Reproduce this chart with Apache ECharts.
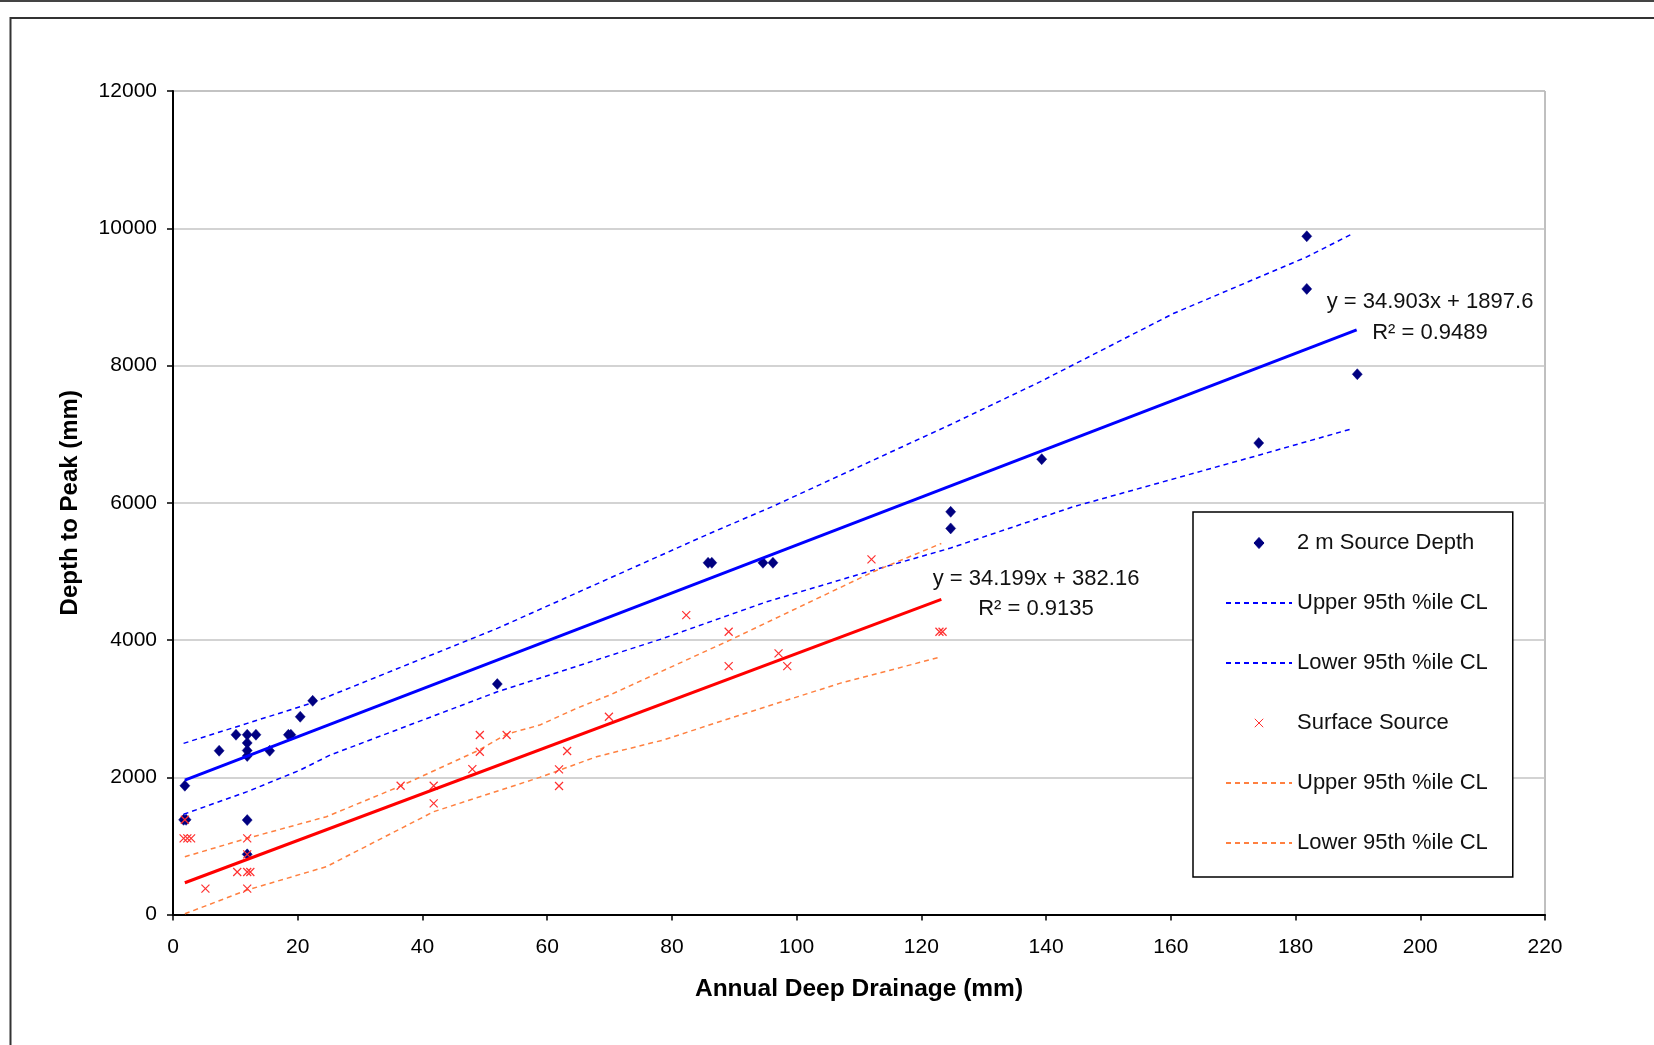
<!DOCTYPE html>
<html><head><meta charset="utf-8">
<script src="https://cdn.jsdelivr.net/npm/echarts@6/dist/echarts.min.js"></script>
<style>html,body{margin:0;padding:0;background:#fff}#c{width:1654px;height:1045px}</style>
</head><body><div id="c"></div>
<script>
// ---- data ----
const xAxisMin = 0, xAxisMax = 220, xAxisStep = 20;
const yAxisMin = 0, yAxisMax = 12000, yAxisStep = 2000;

const sourceDepth2m = [[1.9,1876],[1.7,1380],[2.1,1380],[7.4,2386],[10.1,2619],[11.9,2619],[13.3,2619],
  [11.9,2500],[11.9,2390],[11.9,2310],[15.5,2386],[18.5,2619],[18.9,2619],[20.4,2881],[22.4,3114],
  [11.9,1376],[11.9,877],[52.0,3358],[85.8,5125],[86.4,5125],[94.6,5125],[96.2,5125],[124.7,5868],
  [124.7,5626],[139.3,6635],[174.1,6870],[181.8,9883],[181.8,9116],[189.9,7873]];
const surfaceSource = [[1.9,1380],[1.7,1110],[2.3,1110],[2.9,1110],[11.9,1110],[11.9,877],[10.3,620],
  [11.9,620],[12.4,620],[5.2,376],[11.9,376],[36.5,1876],[41.8,1876],[41.8,1620],[48.0,2119],[49.2,2372],
  [49.2,2615],[53.5,2615],[61.9,2115],[61.9,1872],[63.2,2382],[69.9,2882],[82.3,4363],[89.1,4120],
  [89.1,3620],[97.1,3805],[98.5,3620],[112.0,5174],[122.9,4120],[123.4,4120]];

const blueTrend = [[1.9,1959],[189.8,8518]];
const blueUpper = [[1.7,2494],[11.9,2785],[22.4,3085],[52,4169],[86,5550],[96,5940],[124.7,7140],
  [139,7761],[160.4,8757],[181.8,9582],[189.2,9923]];
const blueLower = [[1.7,1460],[11.9,1790],[20.4,2105],[25.2,2323],[52,3245],[78.6,4023],[95.2,4557],
  [112.3,5018],[124.7,5340],[144.3,5940],[174.1,6693],[189.2,7082]];

const redTrend = [[1.9,463],[123.2,4591]];
const redUpper = [[1.9,842],[11.9,1110],[24.6,1425],[36.5,1872],[49.1,2397],[53.5,2629],[58.8,2760],
  [64.7,3004],[70,3197],[89.3,3998],[112.3,4994],[123.2,5407]];
const redLower = [[1.9,10],[11.9,357],[24.6,697],[41.8,1498],[58.8,1998],[67.9,2299],[78.6,2542],
  [90.9,2906],[106.9,3368],[123.2,3755]];

const blueEquation = ['y = 34.903x + 1897.6', 'R² = 0.9489'];
const redEquation = ['y = 34.199x + 382.16', 'R² = 0.9135'];

const legendNames = ['2 m Source Depth','Upper 95th %ile CL','Lower 95th %ile CL','Surface Source',
  'Upper 95th %ile CL (surface)','Lower 95th %ile CL (surface)'];

// ---- chart ----
const FONT = "'Liberation Sans', Arial, sans-serif";
const chart = echarts.init(document.getElementById('c'), null, {renderer:'canvas'});
// X mark with invisible padding points so the legend icon stays small
const X_PATH = 'path://M-1.5,-1.5L-1.5,-1.5M11.5,11.5L11.5,11.5M0,0L10,10M10,0L0,10';
const DIAMOND_PATH = 'path://M5,0L10,5.5L5,11L0,5.5Z';
const dashed = [5,4];
const hiddenSymbol = {opacity:0};

chart.setOption({
  backgroundColor:'#ffffff',
  animation:false,
  grid:{left:173, right:109, top:91, bottom:130.5, show:true, borderColor:'#808080', borderWidth:1, backgroundColor:'#ffffff'},
  xAxis:{type:'value', min:xAxisMin, max:xAxisMax, interval:xAxisStep,
    name:'Annual Deep Drainage (mm)', nameLocation:'middle', nameGap:62,
    nameTextStyle:{fontFamily:FONT, fontSize:24.5, fontWeight:'bold', color:'#000'},
    axisLine:{show:true, onZero:false, lineStyle:{color:'#000', width:2}},
    axisTick:{show:true, length:6, lineStyle:{color:'#000', width:1.5}},
    axisLabel:{fontFamily:FONT, fontSize:21, color:'#000', margin:22, formatter: v => String(v)},
    splitLine:{show:false}},
  yAxis:{type:'value', min:yAxisMin, max:yAxisMax, interval:yAxisStep,
    name:'Depth to Peak (mm)', nameLocation:'middle', nameGap:91,
    nameTextStyle:{fontFamily:FONT, fontSize:24, fontWeight:'bold', color:'#000'},
    axisLine:{show:true, onZero:false, lineStyle:{color:'#000', width:2}},
    axisTick:{show:true, length:6, lineStyle:{color:'#000', width:1.5}},
    axisLabel:{fontFamily:FONT, fontSize:21, color:'#000', margin:16, formatter: v => String(v)},
    splitLine:{show:true, lineStyle:{color:'#c4c4c4', width:1.5}}},
  legend:{orient:'vertical', left:1193, top:512, itemWidth:66, itemHeight:11, itemGap:38,
    padding:[20,25,23,32], borderColor:'#000', borderWidth:1.5, backgroundColor:'#fff',
    itemStyle:{borderWidth:1},
    textStyle:{fontFamily:FONT, fontSize:22, color:'#111'},
    formatter: n => n.replace(' (surface)',''),
    data: legendNames},
  series:[
    {name:legendNames[1], type:'line', data:blueUpper, symbol:'none', z:2, itemStyle:hiddenSymbol,
      lineStyle:{color:'#0000ff', width:1.5, type:dashed}},
    {name:legendNames[2], type:'line', data:blueLower, symbol:'none', z:2, itemStyle:hiddenSymbol,
      lineStyle:{color:'#0000ff', width:1.5, type:dashed}},
    {name:legendNames[4], type:'line', data:redUpper, symbol:'none', z:2, itemStyle:hiddenSymbol,
      lineStyle:{color:'#ff8040', width:1.5, type:dashed}},
    {name:legendNames[5], type:'line', data:redLower, symbol:'none', z:2, itemStyle:hiddenSymbol,
      lineStyle:{color:'#ff8040', width:1.5, type:dashed}},
    {name:legendNames[0], type:'scatter', data:sourceDepth2m, symbol:DIAMOND_PATH, symbolSize:[10,11], z:3,
      itemStyle:{color:'#000080', borderColor:'#000080', borderWidth:0.5, opacity:1}},
    {name:legendNames[3], type:'scatter', data:surfaceSource, symbol:X_PATH, symbolSize:10.4, z:4,
      itemStyle:{color:'#ff3030', borderColor:'#ff3030', borderWidth:1.2, opacity:1}},
    {name:'blueTrend', type:'line', data:blueTrend, symbol:'none', z:5,
      lineStyle:{color:'#0000ff', width:3}},
    {name:'redTrend', type:'line', data:redTrend, symbol:'none', z:5,
      lineStyle:{color:'#ff0000', width:3}}
  ],
  graphic:[
    {type:'line', shape:{x1:0,y1:1,x2:1654,y2:1}, style:{stroke:'#444', lineWidth:2}, z:100},
    {type:'rect', shape:{x:10.5,y:18,width:1700,height:1100}, style:{fill:null, stroke:'#333', lineWidth:2}, z:100},
    {type:'text', x:1430, y:302, style:{text:blueEquation[0], fontFamily:FONT, fontSize:22, fill:'#111', align:'center', verticalAlign:'middle'}, z:100},
    {type:'text', x:1430, y:333, style:{text:blueEquation[1], fontFamily:FONT, fontSize:22, fill:'#111', align:'center', verticalAlign:'middle'}, z:100},
    {type:'text', x:1036, y:579, style:{text:redEquation[0], fontFamily:FONT, fontSize:22, fill:'#111', align:'center', verticalAlign:'middle'}, z:100},
    {type:'text', x:1036, y:609, style:{text:redEquation[1], fontFamily:FONT, fontSize:22, fill:'#111', align:'center', verticalAlign:'middle'}, z:100}
  ]
});
</script></body></html>
